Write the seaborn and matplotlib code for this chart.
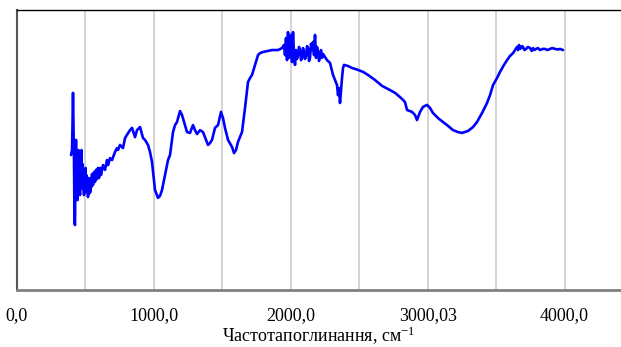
import matplotlib
matplotlib.use("Agg")
import matplotlib.pyplot as plt
import seaborn as sns
import pandas as pd

wavenumber = [394.5, 401.8, 405.4, 409.1, 412.7, 416.4, 420.0, 423.7, 427.3, 431.0, 434.6, 438.3, 441.9, 445.6,
              449.3, 452.9, 456.6, 460.2, 463.9, 467.5, 471.2, 474.8, 478.5, 482.1, 485.8, 489.4, 493.0, 496.7,
              500.4, 504.0, 507.7, 511.4, 515.0, 518.7, 522.3, 526.0, 529.6, 533.3, 537.0, 540.6, 544.3, 547.9,
              555.2, 562.5, 569.8, 577.1, 584.4, 591.7, 599.0, 606.3, 613.6,
              628.2, 642.8, 657.5, 664.8, 679.4, 694.0, 715.9, 730.5, 737.8, 752.4, 774.3, 789.2, 803.6, 825.5,
              840.1, 862.0, 876.6, 898.5, 920.4, 935.0, 957.0, 971.6, 986.2, 1008.1, 1030.0, 1044.6, 1059.2,
              1081.1, 1103.1, 1117.7, 1139.6, 1154.2, 1168.8, 1190.7, 1205.3, 1227.2, 1241.9, 1263.8, 1285.7,
              1300.3, 1314.9, 1336.8, 1358.7, 1380.6, 1395.3, 1409.9, 1424.5, 1446.4, 1468.3, 1490.2, 1504.8,
              1519.4, 1541.4, 1570.6, 1585.2, 1599.8, 1614.4, 1643.6, 1665.5, 1687.5, 1702.1, 1716.7, 1738.6,
              1760.5, 1775.1, 1797.0, 1833.6, 1862.8, 1906.6, 1935.8, 1950.4, 1957.7, 1965.0, 1972.4, 1979.7,
              1987.0, 1994.3, 2001.6, 2008.9, 2016.2, 2023.5, 2030.8, 2038.1, 2045.4, 2052.7, 2060.0, 2067.3,
              2074.6, 2081.9, 2089.2, 2096.5, 2103.8,
              2111.1, 2118.4, 2125.8, 2133.1, 2140.4, 2147.7, 2155.0, 2162.3, 2169.6, 2176.9, 2184.2, 2191.5,
              2198.8, 2206.1, 2213.4, 2220.7, 2228.0, 2235.3, 2249.9,
              2264.6, 2286.5, 2308.4, 2323.0, 2337.6, 2344.9, 2352.2, 2359.5, 2366.8, 2374.1, 2381.4, 2388.7,
              2417.9, 2447.2, 2491.0, 2527.5, 2564.1, 2615.2, 2666.3, 2724.8, 2761.3, 2797.8, 2819.7, 2834.3,
              2849.0, 2870.9, 2885.5, 2907.4, 2922.0, 2943.9, 2965.8, 2995.1, 3017.0, 3038.9, 3075.4, 3111.9,
              3148.5, 3185.0, 3221.5, 3250.7, 3294.6, 3331.1, 3360.3, 3396.8, 3433.4, 3455.3, 3477.2, 3506.4,
              3528.3, 3557.5, 3579.5, 3601.4, 3623.3, 3637.9, 3652.5, 3660.0, 3667.1, 3674.0, 3681.7, 3689.0,
              3696.3, 3707.0, 3718.2, 3732.0, 3747.5, 3760.0, 3769.4, 3780.0, 3791.3, 3805.0, 3820.5, 3840.0,
              3857.0, 3875.0, 3893.6, 3910.0, 3930.1, 3950.0, 3966.6, 3988.5]

transmittance = [48.2, 50.0, 58.9, 70.4, 57.1, 46.4, 23.9, 23.2, 42.9, 53.6, 39.3, 48.2, 32.1, 44.6,
                 50.0, 35.7, 42.9, 33.9, 46.4, 41.1, 50.0, 37.5, 45.0, 36.0, 42.9, 33.9, 41.1, 35.0,
                 43.6, 35.0, 41.0, 36.4, 39.3, 33.2, 40.0, 38.2, 34.6, 39.6, 35.0, 40.0, 36.8, 41.4,
                 37.5, 42.1, 38.6, 42.9, 39.6, 43.6, 40.0, 43.6, 41.1,
                 44.6, 42.9, 46.4, 44.6, 47.1, 46.4, 49.3, 50.7, 50.0, 51.8, 50.7, 54.3, 55.4, 57.1,
                 57.9, 54.6, 57.1, 58.2, 54.3, 53.6, 51.8, 49.3, 45.7, 35.7, 32.9, 33.6, 35.7,
                 41.1, 46.4, 48.2, 56.4, 58.9, 60.0, 63.9, 62.5, 58.9, 56.4, 56.1, 58.9,
                 57.1, 55.7, 57.1, 56.4, 53.6, 51.8, 52.5, 53.6, 57.9, 58.9, 63.6, 61.4,
                 57.9, 53.6, 51.1, 48.9, 50.0, 52.9, 56.4, 65.0, 74.3, 75.7, 76.8, 80.4,
                 83.9, 84.6, 85.0, 85.4, 85.7, 85.7, 86.4, 87.5, 83.9, 90.0, 82.1, 92.1,
                 82.9, 87.5, 91.1, 81.4, 92.1, 83.9, 80.4, 85.7, 82.5, 83.9, 86.8, 85.7,
                 82.1, 82.9, 86.4, 85.0, 82.5,
                 83.6, 87.1, 86.4, 81.8, 82.9, 87.9, 85.7, 88.6, 83.9, 91.1, 82.9, 86.8,
                 85.0, 81.8, 83.6, 85.7, 82.9, 84.3, 83.2,
                 82.1, 81.1, 76.8, 75.0, 73.2, 69.6, 72.1, 66.8, 71.4, 75.7, 79.3, 80.4,
                 80.0, 79.3, 78.6, 77.9, 76.8, 75.0, 72.9, 71.4, 70.4, 68.9, 67.9, 67.1,
                 64.3, 63.9, 63.6, 62.5, 60.7, 63.6, 65.4, 66.1, 65.0, 63.2, 61.4, 60.0,
                 58.6, 57.1, 56.4, 56.1, 56.8, 58.2, 60.0, 63.2, 66.8, 69.6, 73.2, 75.7,
                 77.9, 80.4, 82.1, 83.6, 84.6, 85.7, 86.8, 85.7, 87.5, 86.1, 86.4, 87.1,
                 86.8, 85.7, 86.1, 86.8, 86.4, 85.4, 86.4, 85.7, 86.1, 86.4, 85.7, 86.1,
                 86.1, 85.7, 86.1, 86.4, 86.1, 85.9, 86.1, 85.7]

major_ticks = [0, 1000, 2000, 3000, 4000]
tick_labels = ["0,0", "1000,0", "2000,0", "3000,03", "4000,0"]
minor_ticks = [500, 1500, 2500, 3500]
x_label = "Частотапоглинання, см$^{\\mathrm{-1}}$"

df = pd.DataFrame({"wn": wavenumber, "t": transmittance})

sns.set_style("white")
plt.rcParams["font.family"] = ["Liberation Serif", "DejaVu Serif"]
plt.rcParams["mathtext.fontset"] = "custom"
plt.rcParams["mathtext.rm"] = "Liberation Serif"
plt.rcParams["mathtext.it"] = "Liberation Serif"
plt.rcParams["mathtext.default"] = "rm"
plt.rcParams["text.color"] = "black"
plt.rcParams["xtick.color"] = "black"
plt.rcParams["axes.labelcolor"] = "black"

fig = plt.figure(figsize=(6.21, 3.47), dpi=100)
ax = fig.add_axes([17 / 621, 57 / 347, 1 - 17 / 621, 280 / 347])

sns.lineplot(data=df, x="wn", y="t", ax=ax, color="#0000ff", linewidth=1.9,
             estimator=None, sort=False)

ax.set_xlim(0, 4412)
ax.set_ylim(0, 100)
ax.set_xticks(major_ticks)
ax.set_xticklabels(tick_labels, fontsize=13, color="black")
ax.set_xticks(minor_ticks, minor=True)
ax.set_yticks([])
ax.tick_params(axis="x", which="both", length=0, pad=12)
ax.grid(True, axis="x", which="both", color="#cccccc", linewidth=1.2)
ax.set_axisbelow(True)
ax.set_xlabel(x_label, fontsize=13, labelpad=1, color="black")
ax.set_ylabel("")

ax.spines["right"].set_visible(False)
ax.spines["top"].set_color("#000000")
ax.spines["top"].set_linewidth(1.0)
ax.spines["left"].set_color("#555555")
ax.spines["left"].set_linewidth(1.5)
ax.spines["bottom"].set_color("#808080")
ax.spines["bottom"].set_linewidth(2.0)

fig.savefig("out.png", dpi=100)
